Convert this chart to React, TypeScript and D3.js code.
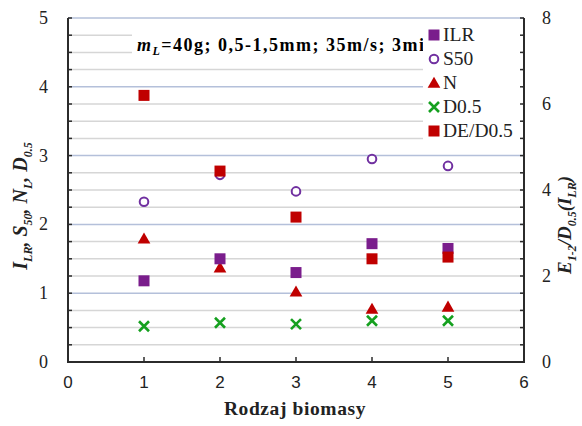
import React, { useEffect, useRef } from 'react';
import * as d3 from 'd3';

const categories = [1, 2, 3, 4, 5];
const ilr = [1.18, 1.5, 1.3, 1.72, 1.65];
const s50 = [2.33, 2.72, 2.48, 2.95, 2.85];
const nL = [1.79, 1.37, 1.02, 0.77, 0.8];
const d05 = [0.52, 0.57, 0.55, 0.6, 0.6];
const deD05 = [6.2, 4.44, 3.37, 2.4, 2.44];
const xTicks = [0, 1, 2, 3, 4, 5, 6];
const leftTicks = [0, 1, 2, 3, 4, 5];
const rightTicks = [0, 2, 4, 6, 8];
const legendItems = ['ILR', 'S50', 'N', 'D0.5', 'DE/D0.5'];

const PURPLE = '#7a1d8c';
const VIOLET = '#7030a0';
const RED = '#c00000';
const GREEN = '#15a01f';
const SERIF = '"Liberation Serif", "DejaVu Serif", serif';
const SANS = '"Liberation Sans", Arial, sans-serif';

const App = () => {
  const ref = useRef<SVGSVGElement>(null);

  useEffect(() => {
    const svg = d3.select(ref.current);
    svg.selectAll('*').remove();

    const left = 68, right = 524, top = 18, bottom = 362;
    const x = d3.scaleLinear().domain([0, 6]).range([left, right]);
    const y = d3.scaleLinear().domain([0, 5]).range([bottom, top]);
    const y2 = d3.scaleLinear().domain([0, 8]).range([bottom, top]);

    // grid lines every 0.25
    const grid = d3.range(0.25, 5.01, 0.25);
    svg.append('g')
      .selectAll('line')
      .data(grid)
      .enter()
      .append('line')
      .attr('x1', left)
      .attr('x2', right)
      .attr('y1', d => y(d))
      .attr('y2', d => y(d))
      .attr('stroke', d => (Math.abs(d - Math.round(d)) < 1e-6 ? '#b4c0da' : '#d6d6d6'))
      .attr('stroke-width', 1.5);

    // annotation text box
    svg.append('rect').attr('x', 132).attr('y', 27).attr('width', 291).attr('height', 34).attr('fill', 'white');
    const ann = svg.append('text')
      .attr('x', 137).attr('y', 51)
      .style('font-family', SERIF).style('font-size', '18px').style('font-weight', 'bold')
      .style('letter-spacing', '1.5px');
    ann.append('tspan').style('font-style', 'italic').text('m');
    ann.append('tspan').style('font-style', 'italic').style('font-size', '12px').attr('dy', 4).text('L');
    ann.append('tspan').attr('dy', -4).text('=40g; 0,5-1,5mm; 35m/s; 3min');

    // legend box (covers the end of the annotation)
    svg.append('rect').attr('x', 423).attr('y', 22).attr('width', 99).attr('height', 122).attr('fill', 'white');

    // axes lines
    const axisColor = '#2b2b2b';
    svg.append('line').attr('x1', left).attr('x2', left).attr('y1', top).attr('y2', bottom).attr('stroke', axisColor).attr('stroke-width', 2);
    svg.append('line').attr('x1', right).attr('x2', right).attr('y1', top).attr('y2', bottom).attr('stroke', axisColor).attr('stroke-width', 2);
    svg.append('line').attr('x1', left - 1).attr('x2', right + 1).attr('y1', bottom).attr('y2', bottom).attr('stroke', axisColor).attr('stroke-width', 2);

    // ticks
    const minor = d3.range(0, 5.01, 0.25);
    svg.append('g').selectAll('line').data(minor).enter().append('line')
      .attr('x1', left).attr('x2', left + 4).attr('y1', d => y(d)).attr('y2', d => y(d))
      .attr('stroke', axisColor).attr('stroke-width', 1.5);
    svg.append('g').selectAll('line').data(minor).enter().append('line')
      .attr('x1', right - 4).attr('x2', right).attr('y1', d => y(d)).attr('y2', d => y(d))
      .attr('stroke', axisColor).attr('stroke-width', 1.5);
    svg.append('g').selectAll('line').data(xTicks.slice(1, -1)).enter().append('line')
      .attr('x1', d => x(d)).attr('x2', d => x(d)).attr('y1', bottom - 5).attr('y2', bottom)
      .attr('stroke', axisColor).attr('stroke-width', 1.5);

    // tick labels
    svg.append('g').selectAll('text').data(leftTicks).enter().append('text')
      .attr('x', left - 20).attr('y', d => y(d) + 6).attr('text-anchor', 'end')
      .style('font-family', SERIF).style('font-size', '18px').attr('fill', '#222')
      .text(d => d);
    svg.append('g').selectAll('text').data(rightTicks).enter().append('text')
      .attr('x', right + 18).attr('y', d => y2(d) + 6).attr('text-anchor', 'start')
      .style('font-family', SERIF).style('font-size', '18px').attr('fill', '#222')
      .text(d => d);
    svg.append('g').selectAll('text').data(xTicks).enter().append('text')
      .attr('x', d => x(d)).attr('y', bottom + 26).attr('text-anchor', 'middle')
      .style('font-family', SANS).style('font-size', '17px').attr('fill', '#222')
      .text(d => d);

    // axis titles
    svg.append('text').attr('x', 295).attr('y', 415).attr('text-anchor', 'middle')
      .style('font-family', SERIF).style('font-size', '19.5px').style('font-weight', 'bold').attr('fill', '#222')
      .style('letter-spacing', '0.6px')
      .text('Rodzaj biomasy');

    const lt = svg.append('text')
      .attr('transform', `translate(27, 206) rotate(-90)`)
      .attr('text-anchor', 'middle')
      .style('font-family', SERIF).style('font-size', '20px').style('font-weight', 'bold').style('font-style', 'italic').attr('fill', '#222');
    const sub = (t: d3.Selection<SVGTextElement, unknown, null, undefined>, main: string, s: string, after: string) => {
      t.append('tspan').text(main);
      t.append('tspan').attr('dy', 5).style('font-size', '12px').text(s);
      t.append('tspan').attr('dy', -5).text(after);
    };
    sub(lt, 'I', 'LR', ', ');
    sub(lt, 'S', '50', ', ');
    sub(lt, 'N', 'L', ', ');
    sub(lt, 'D', '0.5', '');

    const rt = svg.append('text')
      .attr('transform', `translate(571, 225) rotate(-90)`)
      .attr('text-anchor', 'middle')
      .style('font-family', SERIF).style('font-size', '19px').style('font-weight', 'bold').style('font-style', 'italic').attr('fill', '#222');
    sub(rt, 'E', '1-2', '/');
    sub(rt, 'D', '0.5', '(');
    sub(rt, 'I', 'LR', ')');

    // markers
    const square = (g: any, cx: number, cy: number, color: string) =>
      g.append('rect').attr('x', cx - 5.5).attr('y', cy - 5.5).attr('width', 11).attr('height', 11).attr('fill', color);
    const circle = (g: any, cx: number, cy: number, color: string) =>
      g.append('circle').attr('cx', cx).attr('cy', cy).attr('r', 4.3).attr('fill', 'white').attr('stroke', color).attr('stroke-width', 2);
    const tri = (g: any, cx: number, cy: number, color: string) =>
      g.append('path').attr('d', d3.symbol(d3.symbolTriangle, 70)()).attr('transform', `translate(${cx},${cy + 1})`).attr('fill', color);
    const cross = (g: any, cx: number, cy: number, color: string) =>
      g.append('path').attr('d', `M${cx - 5},${cy - 5}L${cx + 5},${cy + 5}M${cx - 5},${cy + 5}L${cx + 5},${cy - 5}`)
        .attr('stroke', color).attr('stroke-width', 2.6).attr('fill', 'none');

    const g = svg.append('g');
    categories.forEach((c, i) => cross(g, x(c), y(d05[i]), GREEN));
    categories.forEach((c, i) => tri(g, x(c), y(nL[i]), RED));
    categories.forEach((c, i) => circle(g, x(c), y(s50[i]), VIOLET));
    categories.forEach((c, i) => square(g, x(c), y(ilr[i]), PURPLE));
    categories.forEach((c, i) => square(g, x(c), y2(deD05[i]), RED));

    // legend
    const lg = svg.append('g');
    const drawers = [
      (cy: number) => square(lg, 434, cy, PURPLE),
      (cy: number) => circle(lg, 434, cy, VIOLET),
      (cy: number) => tri(lg, 434, cy, RED),
      (cy: number) => cross(lg, 434, cy, GREEN),
      (cy: number) => square(lg, 434, cy, RED),
    ];
    legendItems.forEach((name, i) => {
      const cy = 35 + i * 24;
      drawers[i](cy);
      lg.append('text').attr('x', 443).attr('y', cy + 6)
        .style('font-family', SERIF).style('font-size', '19.5px').attr('fill', '#222')
        .text(name);
    });
  }, []);

  return <svg ref={ref} width={582} height={426} style={{ display: 'block', position: 'absolute', left: 0, top: 0 }} />;
};

export default App;
